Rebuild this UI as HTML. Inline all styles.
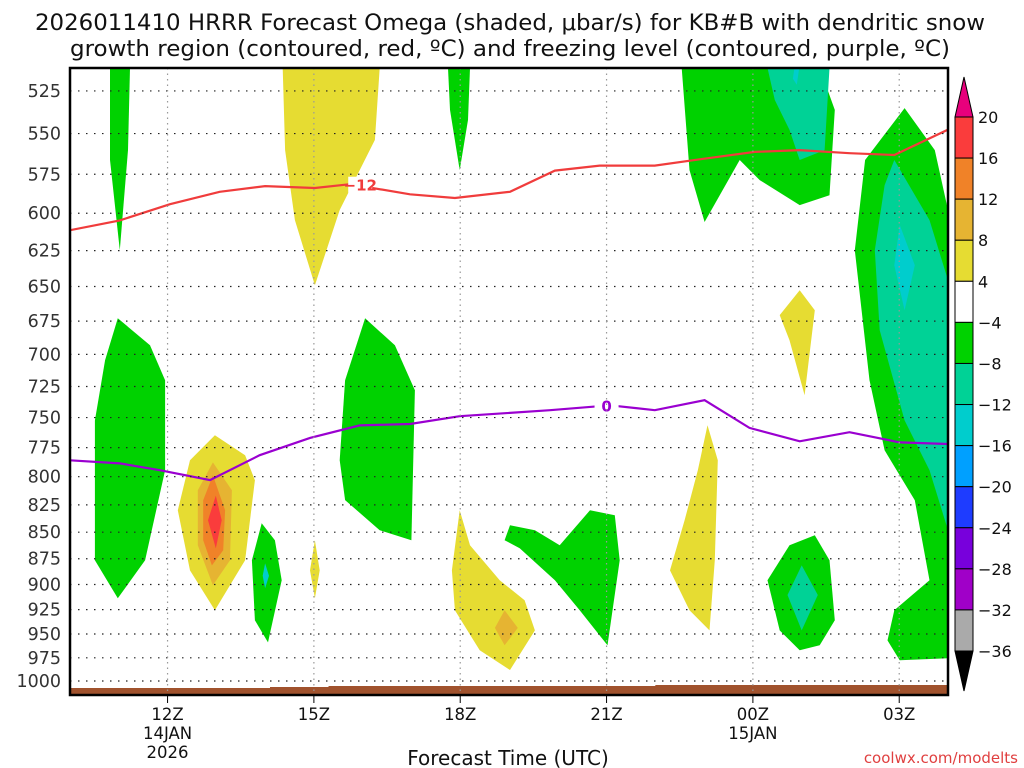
<!DOCTYPE html>
<html><head><meta charset="utf-8"><style>
html,body{margin:0;padding:0;background:#fff;}
svg{display:block;font-family:"DejaVu Sans","Liberation Sans",sans-serif;}
</style></head><body>
<svg id="c" width="1024" height="768" viewBox="0 0 1024 768">
<text x="510" y="30" font-size="22.5" text-anchor="middle" fill="#111" textLength="950" lengthAdjust="spacingAndGlyphs">2026011410 HRRR Forecast Omega (shaded, μbar/s) for KB#B with dendritic snow</text>
<text x="510" y="56" font-size="22.5" text-anchor="middle" fill="#111" textLength="880" lengthAdjust="spacingAndGlyphs">growth region (contoured, red, ºC) and freezing level (contoured, purple, ºC)</text>
<text x="508" y="765" font-size="20" text-anchor="middle" fill="#111">Forecast Time (UTC)</text>
<text x="1018" y="763" font-size="15" text-anchor="end" fill="#e04040">coolwx.com/modelts</text>
<g id="plot"></g>
</svg>
<script>
// ---- data ----
const pressureTicks=[525,550,575,600,625,650,675,700,725,750,775,800,825,850,875,900,925,950,975,1000];
const timeTicks=[12,15,18,21,24,27];
const timeLabels=["12Z","15Z","18Z","21Z","00Z","03Z"];
const dateLabels=[["14JAN","2026"],[],[],[],["15JAN"],[]];
const dgzHours=[10,11.02,12.05,13.07,14,15.02,15.74,16.97,17.89,19.02,19.94,20.86,21.99,22.91,24.04,24.96,25.98,26.9,28];
const dgzPres=[611.2,604.7,594.1,586.1,582.5,583.7,581.3,587.7,590.1,586.1,572.7,569.6,569.6,565.7,561.1,560,561.9,563,547.6];
const frzHours=[10,11.02,11.84,12.87,13.89,14.92,15.94,16.97,17.99,19.84,21.07,21.99,23.01,23.93,24.96,25.98,27.01,28];
const frzPres=[785.8,788.5,794.4,803,781.5,766.8,756.4,755.3,748.9,744,740,744,735.9,758.5,769.7,762.1,770.6,772];
const sfcHours=[10,14.1,15.3,22,28];
const sfcPres=[1007.7,1006.6,1005.5,1004.4,1004.4];
const colors={g:"#00d200",t:"#00d296",c:"#00cdcd",y:"#e6dc32",o1:"#e6b432",o2:"#f08228",r:"#fa3c3c"};
// omega regions: [colorKey, hours[], pressures[]]
const regions=[
["g",[10.82,11.23,11.19,11.02,10.82],[512,512,560,624.7,566.1]],
["g",[10.98,11.64,11.95,11.95,11.54,10.98,10.51,10.51,10.72],[672.9,693.1,720,794.4,876.5,913.6,876.5,752.4,704.4]],
["g",[16.05,16.66,17.07,17.0,16.35,15.64,15.53,15.64],[672.9,693.1,728,857.5,848.2,820.7,785.8,720]],
["g",[13.93,14.2,14.34,14.06,13.79,13.73],[841.8,857.5,895.8,958.7,935.9,876.5]],
["c",[14.0,14.08,14.0,13.95],[879.5,891.5,903.7,891.5]],
["g",[17.75,18.2,18.16,17.99,17.79],[512,512,541.9,572.4,536]],
["g",[18.91,19.02,19.53,20.04,20.66,21.17,21.27,21.02,20.45,19.94,19.22],[857.5,843.6,848.2,862.3,829.9,834.5,876.5,961.8,925.7,895.8,865.1]],
["g",[22.54,25.37,25.68,25.57,24.96,24.14,23.73,23.01,22.7],[512,512,536,588.3,594.7,578.7,566.1,605.8,572.4]],
["t",[24.3,25.57,25.47,24.96,24.75,24.45],[512,512,560,566.1,547.8,530.2]],
["c",[24.85,24.95,24.9,24.82],[512,512,521.4,518]],
["g",[24.75,25.27,25.57,25.68,25.37,24.96,24.55,24.3],[862.3,852.9,876.5,935.9,961.8,967,946.2,895.8]],
["t",[25.0,25.33,25.0,24.71],[881.4,910.4,946.2,910.4]],
["g",[27.11,27.73,28,28,27.01,26.76,26.9,27.62,27.32,26.7,26.39,26.09,26.3],[534.9,560,597.9,975.4,977.5,956.6,925.7,895.8,820.9,777.3,720,624.7,566.1]],
["t",[26.9,27.62,28,28,27.62,27.11,26.6,26.5,26.7],[566.1,604.5,645.5,848.2,794.4,752.3,681.8,624.7,581.9]],
["c",[27.01,27.32,27.11,26.9],[607.7,635,667,635]],
["y",[14.36,16.35,16.25,15.53,15.02,14.61,14.41],[512,512,553.8,597.9,649.1,604.5,560]],
["y",[12.97,13.59,13.79,13.59,12.97,12.46,12.21,12.46],[764.6,781.5,803.1,876.5,925.7,886.2,829.9,785.8]],
["o1",[12.93,13.32,13.28,12.93,12.62,12.62],[787.6,812,876.5,900.8,862.3,812]],
["o2",[12.93,13.18,13.14,12.91,12.73,12.73],[798.8,829.9,867,881.4,857.5,820.9]],
["r",[12.99,13.11,12.99,12.83],[816.7,839,865.2,839]],
["y",[15.02,15.12,15.02,14.92],[857.5,886.2,913.6,886.2]],
["y",[17.99,18.2,18.81,19.32,19.53,19.02,18.4,17.89,17.83],[829.9,862.3,895.8,915.6,946.2,988,967,925.7,886.2]],
["o1",[18.91,19.18,18.91,18.71],[925.7,943.7,961.8,943.7]],
["y",[23.07,23.28,23.22,23.11,22.7,22.3,22.6,22.87],[756.3,785.8,876.5,946.2,925.7,886.2,839,794.5]],
["y",[24.96,25.27,25.06,24.75,24.55],[652.6,667,731.9,689.3,670.6]]
];
const cbLabels=["20","16","12","8","4","−4","−8","−12","−16","−20","−24","−28","−32","−36"];
const cbColors=["#fa3c3c","#f08228","#e6b432","#e6dc32","#ffffff","#00d200","#00d296","#00cdcd","#00a0ff","#1e3cff","#7800dc","#a000c8","#aaaaaa"];
// ---- axes (log-pressure) ----
const X0=70,X1=948,Y0=68,Y1=695;
const H0=10,H1=28,P0=512,P1=1015.4;
const xs=h=>X0+(h-H0)/(H1-H0)*(X1-X0);
const ys=p=>Y0+Math.log(p/P0)/Math.log(P1/P0)*(Y1-Y0);
const NS="http://www.w3.org/2000/svg";
const g=document.getElementById('plot');
function mk(tag,at,parent){const e=document.createElementNS(NS,tag);for(const k in at)e.setAttribute(k,at[k]);(parent||g).appendChild(e);return e;}
const clip=mk('clipPath',{id:'pc'});mk('rect',{x:X0,y:Y0,width:X1-X0,height:Y1-Y0},clip);
const shade=mk('g',{'clip-path':'url(#pc)'});


regions.forEach((r,i)=>{
  const pts=r[1].map((h,j)=>xs(h).toFixed(1)+','+ys(r[2][j]).toFixed(1)).join(' ');
  const el=mk('polygon',{points:pts,fill:colors[r[0]]},shade);
  
  
});
// surface ground
let sp='';sfcHours.forEach((h,i)=>{if(i>0)sp+=xs(h)+','+ys(sfcPres[i-1])+' ';sp+=xs(h)+','+ys(sfcPres[i])+' ';});
const gr=mk('polygon',{points:xs(H0)+','+Y1+' '+sp+xs(H1)+','+Y1,fill:'#a0522d'},shade);


// grid
pressureTicks.forEach(p=>{
  const l=mk('line',{x1:X0,x2:X1,y1:ys(p),y2:ys(p),stroke:'#222','stroke-width':1.2,'stroke-dasharray':'1.5 6.5'});
  
  
  const t=mk('text',{x:61,y:ys(p)+6,'font-size':17.5,'text-anchor':'end',fill:'#333'});t.textContent=p;
  
  
});
timeTicks.forEach((h,i)=>{
  const l=mk('line',{x1:xs(h),x2:xs(h),y1:Y0,y2:Y1,stroke:'#999','stroke-width':1.2,'stroke-dasharray':'1.5 4'});
  
  
  mk('line',{x1:xs(h),x2:xs(h),y1:Y1,y2:Y1+8,stroke:'#000','stroke-width':1});
  const lines=[timeLabels[i]].concat(dateLabels[i]);
  lines.forEach((s,k)=>{const t=mk('text',{x:xs(h),y:Y1+25+k*19,'font-size':16.5,'text-anchor':'middle',fill:'#111'});t.textContent=s;
  
  });
});
// contours
function line(hs,ps,col,name){const d=hs.map((h,i)=>(i?'L':'M')+xs(h).toFixed(1)+','+ys(ps[i]).toFixed(1)).join('');
  const e=mk('path',{d:d,fill:'none',stroke:col,'stroke-width':2.2},shade);
  
  }
line(dgzHours,dgzPres,'#f03c3c','dgz-minus12-contour');
line(frzHours,frzPres,'#9a00d0','freezing-level-contour');
function lab(h,p,s,col,name){mk('rect',{x:xs(h)-12,y:ys(p)-8,width:24,height:16,fill:'#fff'},shade);
  const t=mk('text',{x:xs(h),y:ys(p)+6,'font-size':15,'font-weight':'bold','text-anchor':'middle',fill:col},shade);t.textContent=s;
  
  }
lab(15.95,581.6,'−12','#f03c3c','dgz-contour-label');
lab(21.0,740,'0','#9a00d0','freezing-contour-label');
const fr=mk('rect',{x:X0,y:Y0,width:X1-X0,height:Y1-Y0,fill:'none',stroke:'#000','stroke-width':2.5});


// colorbar
const cb=mk('g',{});


const CX=955,CW=18,CT=117,CB=651,bh=(CB-CT)/cbColors.length;
mk('polygon',{points:`${CX},${CT} ${CX+CW},${CT} ${CX+CW/2},${CT-40}`,fill:'#e8007c',stroke:'#000'},cb);
mk('polygon',{points:`${CX},${CB} ${CX+CW},${CB} ${CX+CW/2},${CB+40}`,fill:'#000',stroke:'#000'},cb);
cbColors.forEach((c,i)=>mk('rect',{x:CX,y:CT+i*bh,width:CW,height:bh,fill:c,stroke:'#000','stroke-width':1},cb));
cbLabels.forEach((s,i)=>{const t=mk('text',{x:CX+CW+5,y:CT+i*bh+6,'font-size':16,fill:'#111'},cb);t.textContent=s;
  
  });
</script>
</body></html>
